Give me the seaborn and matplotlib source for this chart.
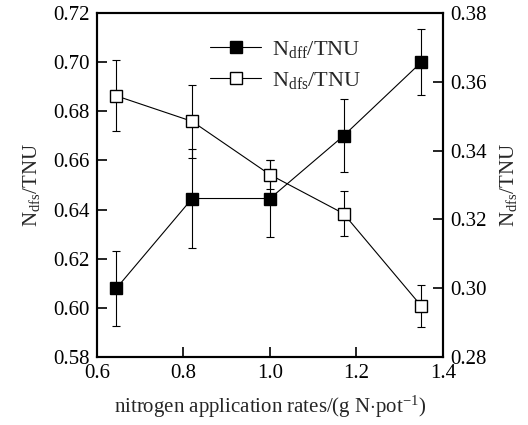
import matplotlib
matplotlib.use("Agg")
import matplotlib.pyplot as plt
from matplotlib.lines import Line2D
import seaborn as sns
import pandas as pd

# Data
rates = [0.645, 0.82, 1.0, 1.17, 1.35]
ndff = [0.608, 0.6445, 0.6445, 0.670, 0.700]
ndff_err = [0.0153, 0.020, 0.0158, 0.0149, 0.0135]
ndfs = [0.3559, 0.3485, 0.333, 0.3217, 0.2948]
ndfs_err = [0.0103, 0.0106, 0.0042, 0.0065, 0.006]

x_ticks = [0.6, 0.8, 1.0, 1.2, 1.4]
left_ticks = [0.58, 0.60, 0.62, 0.64, 0.66, 0.68, 0.70, 0.72]
right_ticks = [0.28, 0.30, 0.32, 0.34, 0.36, 0.38]

sns.set_style("ticks")
plt.rcParams["font.family"] = ["Liberation Serif", "DejaVu Serif"]
plt.rcParams["mathtext.fontset"] = "custom"
plt.rcParams["mathtext.rm"] = "Liberation Serif"
plt.rcParams["mathtext.it"] = "Liberation Serif:italic"
plt.rcParams["mathtext.bf"] = "Liberation Serif:bold"

df1 = pd.DataFrame({"rate": rates, "val": ndff})
df2 = pd.DataFrame({"rate": rates, "val": ndfs})

fig = plt.figure(figsize=(5.28, 4.25), dpi=100)
ax = fig.add_axes([0.1837, 0.16, 0.6553, 0.8094])
ax2 = ax.twinx()

lw = 0.8
ax.errorbar(rates, ndff, yerr=ndff_err, fmt="none", ecolor="black",
            elinewidth=lw, capsize=3, capthick=lw)
sns.lineplot(data=df1, x="rate", y="val", ax=ax, color="black", linewidth=lw,
             marker="s", markersize=8, markerfacecolor="black",
             markeredgecolor="black", markeredgewidth=1.0)

ax2.errorbar(rates, ndfs, yerr=ndfs_err, fmt="none", ecolor="black",
             elinewidth=lw, capsize=3, capthick=lw)
sns.lineplot(data=df2, x="rate", y="val", ax=ax2, color="black", linewidth=lw,
             marker="s", markersize=8, markerfacecolor="white",
             markeredgecolor="black", markeredgewidth=1.0)

ax.set_xlim(0.6, 1.4)
ax.set_ylim(0.58, 0.72)
ax2.set_ylim(0.28, 0.38)
ax.set_xticks(x_ticks)
ax.set_xticklabels([f"{t:.1f}" for t in x_ticks])
ax.set_yticks(left_ticks)
ax.set_yticklabels([f"{t:.2f}" for t in left_ticks])
ax2.set_yticks(right_ticks)
ax2.set_yticklabels([f"{t:.2f}" for t in right_ticks])

for a in (ax, ax2):
    for s in a.spines.values():
        s.set_visible(True)
        s.set_linewidth(1.5)
        s.set_color("black")
ax.tick_params(axis="both", direction="in", length=7, width=1.2,
               labelsize=15, pad=5, colors="black")
ax2.tick_params(axis="y", direction="in", length=7, width=1.2,
                labelsize=15, pad=5, colors="black")

ax.set_xlabel(r"nitrogen application rates/(g N$\cdot$pot$^{-1}$)", fontsize=15, labelpad=8)
ax.set_ylabel(r"N$_{\rm dfs}$/TNU", fontsize=15, labelpad=8)
ax2.set_ylabel(r"N$_{\rm dfs}$/TNU", fontsize=15, labelpad=8)

handles = [
    Line2D([], [], color="black", linewidth=lw, marker="s", markersize=8,
           markerfacecolor="black", markeredgecolor="black"),
    Line2D([], [], color="black", linewidth=lw, marker="s", markersize=8,
           markerfacecolor="white", markeredgecolor="black"),
]
labels = [r"N$_{\rm dff}$/TNU", r"N$_{\rm dfs}$/TNU"]
ax2.legend(handles, labels, loc="upper left", bbox_to_anchor=(0.36, 0.955),
           bbox_transform=fig.transFigure, frameon=False, fontsize=16,
           handlelength=2.3, handletextpad=0.5, labelspacing=0.45)

fig.savefig("out.png", dpi=100)
